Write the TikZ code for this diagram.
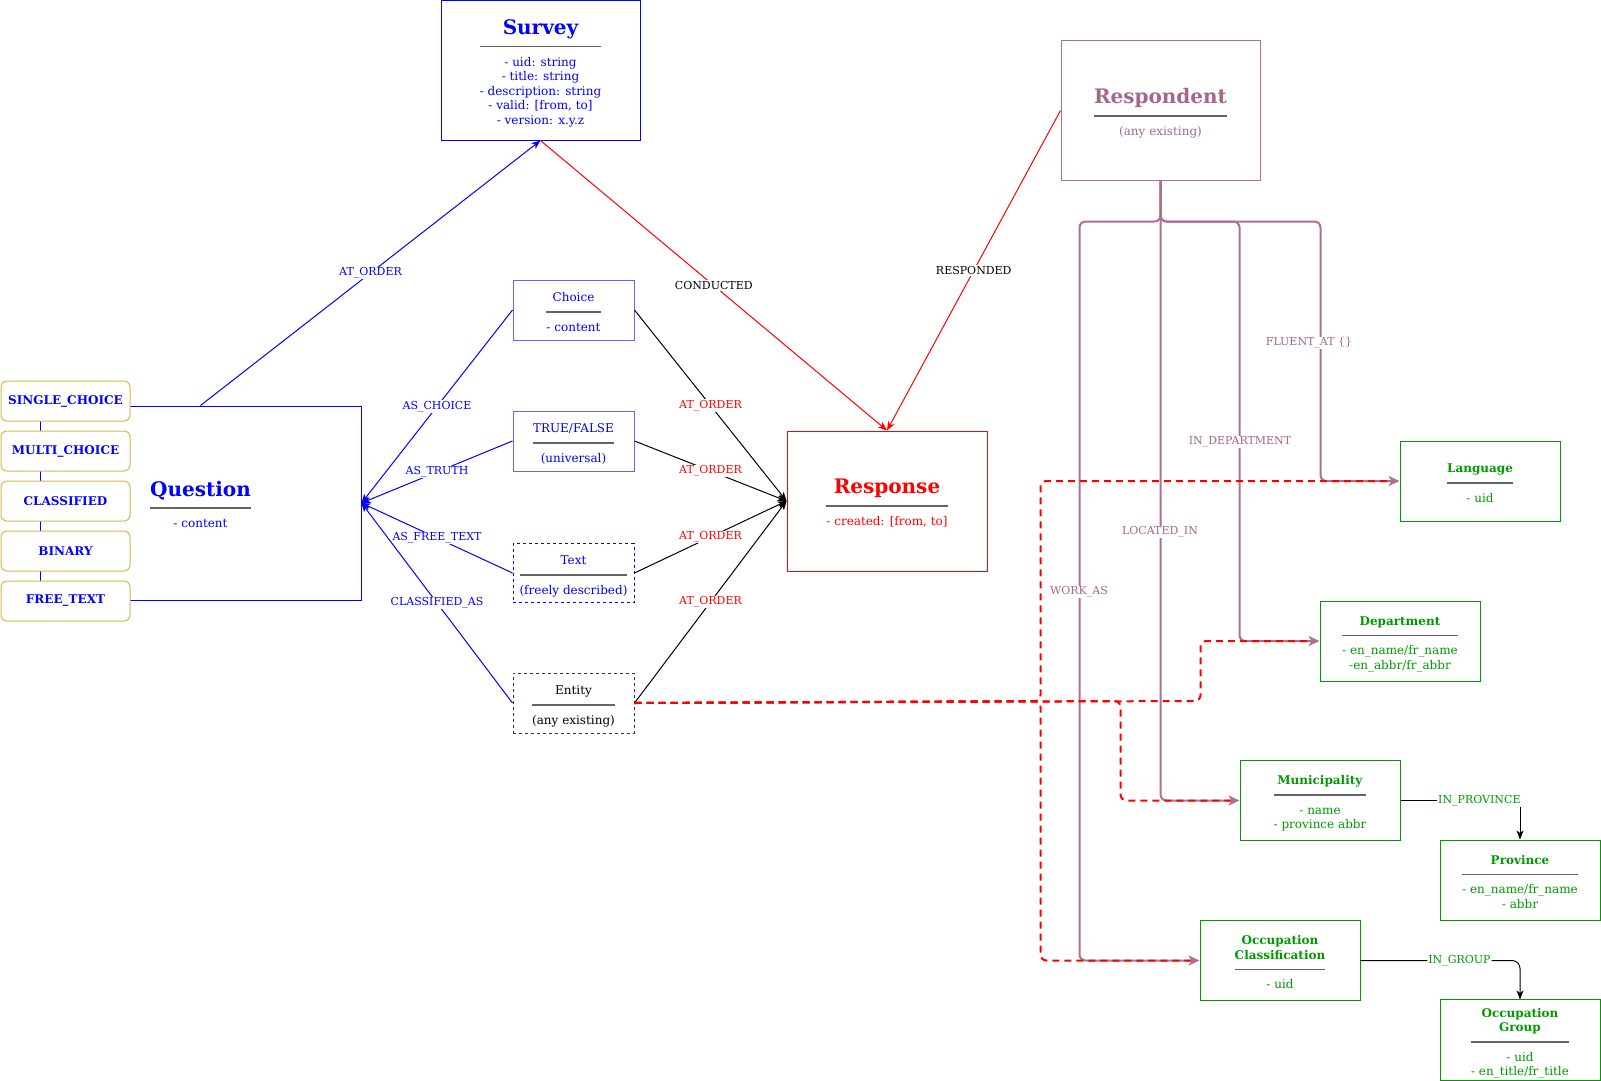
\documentclass[tikz,border=0pt]{standalone}
\usepackage{fontspec}
\setmainfont{DejaVu Serif}
\usepackage{colortbl}
\usetikzlibrary{arrows.meta}

\definecolor{qblue}{RGB}{0,0,255}
\definecolor{softblue}{RGB}{102,102,255}
\definecolor{gold}{RGB}{214,182,86}
\definecolor{plum}{RGB}{176,110,150}
\definecolor{plumtext}{RGB}{166,102,140}
\definecolor{leaf}{RGB}{0,153,0}
\definecolor{rulegray}{RGB}{100,100,100}

\setlength{\arrayrulewidth}{1.6pt}
\arrayrulecolor{rulegray}

% title, rule, attributes
\newcommand{\entbox}[3][5pt]{%
  \begin{tabular}{@{}c@{}}\noalign{\vskip 7pt}#2\\[#1]\hline\noalign{\vskip 8.5pt}#3\end{tabular}}
\newcommand{\bigtitle}[1]{{\fontsize{20}{24}\selectfont\bfseries #1}}

\tikzset{
  box/.style={draw, rectangle, inner sep=0pt, line width=1pt},
  kind/.style={box, draw=gold, fill=white, rounded corners=6pt,
    minimum width=129pt, minimum height=40pt, text=qblue, font=\fontsize{12}{14}\selectfont\bfseries},
  leafbox/.style={box, draw=leaf, text=leaf, minimum width=160pt, minimum height=80pt},
  lbl/.style={fill=white, inner sep=1pt, font=\fontsize{11}{13}\selectfont},
  link/.style={line width=1pt, -{Stealth[length=9pt,width=7pt,inset=2.5pt]}},
  resp/.style={draw=plum, line width=2pt, rounded corners=6pt,
    -{Stealth[length=11pt,width=10pt,inset=3pt]}},
  lookup/.style={draw=red, line width=2pt, dash pattern=on 7pt off 5pt,
    rounded corners=6pt, shorten >=9pt},
}

\begin{document}
\begin{tikzpicture}[x=1pt,y=-1pt,font=\fontsize{12}{14.5}\selectfont]
  \useasboundingbox (0,0) rectangle (1601,1081);

  % Main entities
  \node[box, draw=qblue, text=qblue, minimum width=199pt, minimum height=139pt] (survey) at (540.5,70.5)
    {\entbox[7pt]{\bigtitle{Survey}}{- uid: string\\- title: string\\- description: string\\- valid: [from, to]\\- version: x.y.z}};
  \node[box, draw=plum, text=plumtext, minimum width=199pt, minimum height=139pt] (respondent) at (1160.5,110.5)
    {\entbox[7pt]{\bigtitle{Respondent}}{(any existing)}};
  \node[box, draw=red, text=red, minimum width=200pt, minimum height=140pt] (response) at (887,501)
    {\entbox[7pt]{\bigtitle{Response}}{- created: [from, to]}};
  \node[box, draw=qblue, text=qblue, minimum width=321pt, minimum height=194pt] (question) at (200.5,503)
    {\entbox[7pt]{\bigtitle{Question}}{- content}};

  % Question kinds
  \node[kind] (single) at (65.5,401) {SINGLE\_CHOICE};
  \node[kind] (multi) at (65.5,451) {MULTI\_CHOICE};
  \node[kind] (classified) at (65.5,501) {CLASSIFIED};
  \node[kind] (binary) at (65.5,551) {BINARY};
  \node[kind] (freekind) at (65.5,601) {FREE\_TEXT};

  % Answer kinds
  \node[box, draw=softblue, text=qblue, minimum width=121pt, minimum height=60pt] (choice) at (573.5,310)
    {\entbox{Choice}{- content}};
  \node[box, draw=softblue, text=qblue, minimum width=121pt, minimum height=60pt] (truefalse) at (573.5,441)
    {\entbox{TRUE/FALSE}{(universal)}};
  \node[box, draw=qblue, dash pattern=on 3pt off 3pt, text=qblue, minimum width=121pt, minimum height=59pt] (freetext) at (573.5,573)
    {\entbox{Text}{(freely described)}};
  \node[box, draw=black!80, dash pattern=on 3pt off 3pt, minimum width=121pt, minimum height=60pt] (entity) at (573.5,703)
    {\entbox{Entity}{(any existing)}};

  % Lookup entities
  \node[leafbox] (language) at (1480,481) {\entbox{\textbf{Language}}{- uid}};
  \node[leafbox] (department) at (1400,641) {\entbox{\textbf{Department}}{- en\_name/fr\_name\\-en\_abbr/fr\_abbr}};
  \node[leafbox] (municipality) at (1320,800.5) {\entbox{\textbf{Municipality}}{- name\\- province abbr}};
  \node[leafbox] (province) at (1520,880) {\entbox{\textbf{Province}}{- en\_name/fr\_name\\- abbr}};
  \node[leafbox] (occclass) at (1280,960.5) {\entbox{\textbf{Occupation}\\\textbf{Classification}}{- uid}};
  \node[leafbox] (occgroup) at (1520,1040) {\entbox{\textbf{Occupation}\\\textbf{Group}}{- uid\\- en\_title/fr\_title}};

  % Survey and response
  \draw[link, draw=qblue] (question.north) -- node[lbl, text=qblue] {AT\_ORDER} (survey.south);
  \draw[link, draw=red] (survey.south) -- node[lbl, text=black] {CONDUCTED} (response.north);
  \draw[link, draw=red] (respondent.west) -- node[lbl, text=black] {RESPONDED} (response.north);
  \foreach \src in {choice,truefalse,freetext,entity}
    \draw[link] (\src.east) -- node[lbl, text=red] {AT\_ORDER} (response.west);

  % Answers to question
  \draw[link, draw=qblue] (choice.west) -- node[lbl, text=qblue] {AS\_CHOICE} (question.east);
  \draw[link, draw=qblue] (truefalse.west) -- node[lbl, text=qblue] {AS\_TRUTH} (question.east);
  \draw[link, draw=qblue] (freetext.west) -- node[lbl, text=qblue] {AS\_FREE\_TEXT} (question.east);
  \draw[link, draw=qblue] (entity.west) -- node[lbl, text=qblue] {CLASSIFIED\_AS} (question.east);

  % Respondent relations
  \draw[resp] (respondent.south) -- ++(0,41) -| ([xshift=-120pt]occclass.west) -- (occclass.west);
  \draw[resp] (respondent.south) |- (municipality.west);
  \draw[resp] (respondent.south) -- ++(0,41) -| ([xshift=-80pt]department.west) -- (department.west);
  \draw[resp] (respondent.south) -- ++(0,41) -| ([xshift=-79pt]language.west) -- (language.west);
  \node[lbl, text=plumtext] (fluentlbl) at (1309,343) {FLUENT\_AT \{\}};
  \node[lbl, text=plumtext] (deptlbl) at (1240,442) {IN\_DEPARTMENT};
  \node[lbl, text=plumtext] (locatedlbl) at (1160,532) {LOCATED\_IN};
  \node[lbl, text=plumtext] (worklbl) at (1079,592) {WORK\_AS};

  % Entity lookups
  \draw[lookup] (entity.east) -- ++(406,-2) |- (language.west);
  \draw[lookup] (entity.east) -- ++(566,-2) |- (department.west);
  \draw[lookup] (entity.east) -- ++(486,-2) |- (municipality.west);
  \draw[lookup] (entity.east) -- ++(406,-2) |- (occclass.west);

  % Hierarchies
  \draw[link] (municipality.east) -| node[lbl, text=leaf, pos=0.33] {IN\_PROVINCE} (province.north);
  \draw[link, rounded corners=8pt] (occclass.east) -| node[lbl, text=leaf, pos=0.31] {IN\_GROUP} (occgroup.north);
\end{tikzpicture}
\end{document}
